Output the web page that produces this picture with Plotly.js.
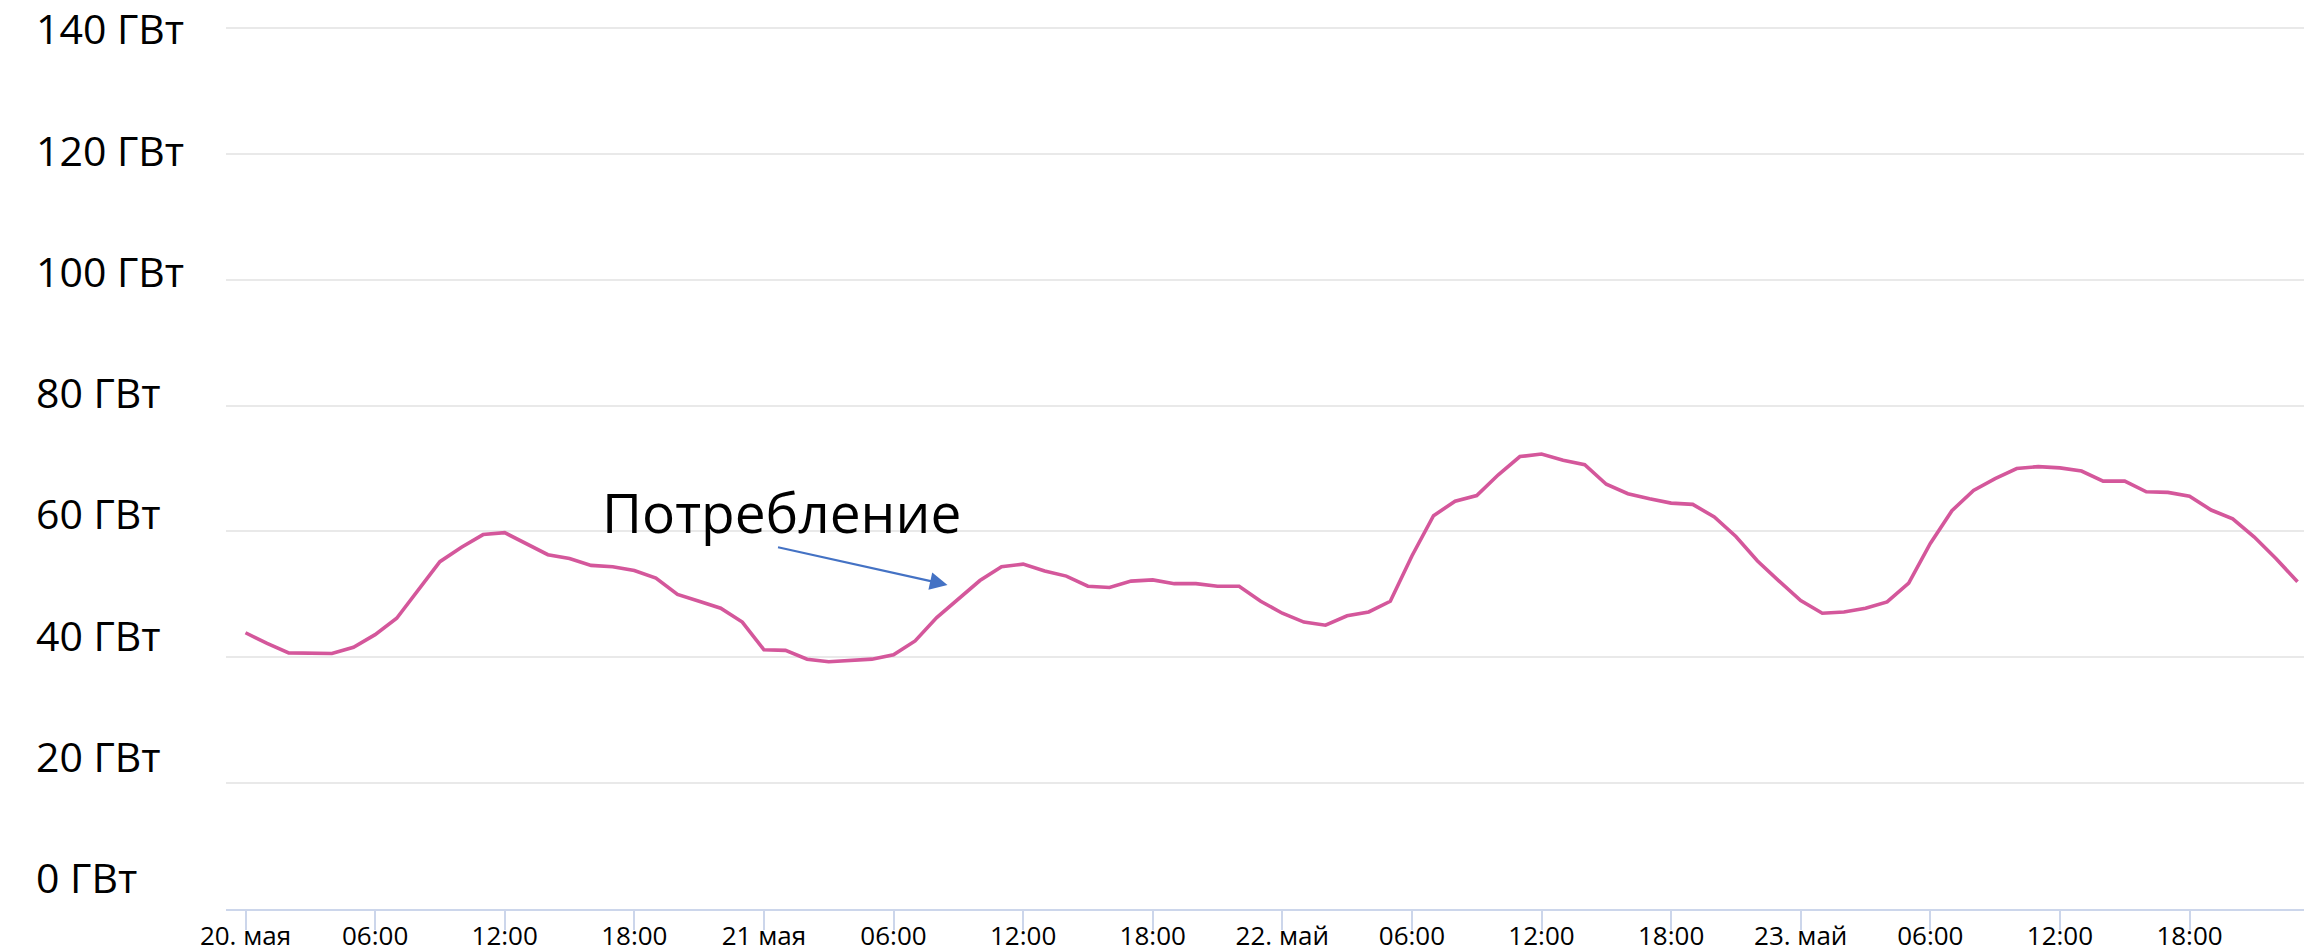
<!DOCTYPE html>
<html>
<head>
<meta charset="utf-8">
<script src="https://cdn.plot.ly/plotly-3.0.1.min.js"></script>
<style>
  html, body { margin: 0; padding: 0; background: #ffffff; }
  #chart { width: 2304px; height: 948px; }
</style>
</head>
<body>
<div id="chart"></div>
<script>
// Hourly load, 20 May 00:00 ... 23 May 23:00 (GW)
const startDay = 20;
const loadGW = [
  43.9, 42.2, 40.7, 40.6, 40.6, 41.6, 43.6, 46.2, 50.8, 55.2, 57.5, 59.5,
  59.8, 58.0, 56.3, 55.7, 54.6, 54.4, 53.8, 52.6, 50.0, 48.9, 47.8, 45.6,
  41.2, 41.1, 39.7, 39.3, 39.5, 39.7, 40.4, 42.6, 46.3, 49.2, 52.2, 54.4,
  54.8, 53.7, 52.9, 51.3, 51.1, 52.1, 52.3, 51.7, 51.7, 51.3, 51.3, 48.9,
  47.0, 45.6, 45.1, 46.6, 47.2, 48.9, 56.1, 62.5, 64.8, 65.7, 69.0, 71.9,
  72.3, 71.3, 70.6, 67.5, 66.0, 65.2, 64.5, 64.3, 62.3, 59.2, 55.3, 52.1,
  49.0, 47.0, 47.2, 47.8, 48.8, 51.8, 58.1, 63.3, 66.5, 68.4, 70.0, 70.3,
  70.1, 69.6, 68.0, 68.0, 66.3, 66.2, 65.6, 63.4, 62.0, 59.1, 55.7, 52.0
];
const xTickVals = [
  '2023-05-20 00:00', '2023-05-20 06:00', '2023-05-20 12:00', '2023-05-20 18:00',
  '2023-05-21 00:00', '2023-05-21 06:00', '2023-05-21 12:00', '2023-05-21 18:00',
  '2023-05-22 00:00', '2023-05-22 06:00', '2023-05-22 12:00', '2023-05-22 18:00',
  '2023-05-23 00:00', '2023-05-23 06:00', '2023-05-23 12:00', '2023-05-23 18:00'
];
const xTickText = [
  '20. мая', '06:00', '12:00', '18:00',
  '21 мая', '06:00', '12:00', '18:00',
  '22. май', '06:00', '12:00', '18:00',
  '23. май', '06:00', '12:00', '18:00'
];
const yTickVals = [0, 20, 40, 60, 80, 100, 120, 140];
const yTickText = ['0 ГВт', '20 ГВт', '40 ГВт', '60 ГВт', '80 ГВт', '100 ГВт', '120 ГВт', '140 ГВт'];
const seriesLabel = 'Потребление';

function pad(n) { return (n < 10 ? '0' : '') + n; }
const times = loadGW.map((v, i) => {
  const d = startDay + Math.floor(i / 24);
  const h = i % 24;
  return '2023-05-' + pad(d) + ' ' + pad(h) + ':00';
});

const FONT = '"Open Sans", "Noto Sans", "DejaVu Sans", sans-serif';

const traces = [
  {
    x: times, y: loadGW, type: 'scatter', mode: 'lines',
    line: { color: '#d4579b', width: 3.6 },
    name: seriesLabel, showlegend: false, hoverinfo: 'x+y'
  },
  {
    x: times, y: loadGW, type: 'scatter', mode: 'lines', yaxis: 'y2',
    line: { color: 'rgba(0,0,0,0)', width: 0 },
    showlegend: false, hoverinfo: 'skip'
  }
];

const layout = {
  width: 2304, height: 948,
  margin: { l: 0, r: 0, t: 0, b: 39, pad: 0 },
  paper_bgcolor: '#ffffff', plot_bgcolor: '#ffffff',
  showlegend: false,
  font: { family: FONT, color: '#000000' },
  xaxis: {
    type: 'date',
    domain: [226 / 2304, 1],
    range: ['2023-05-19 23:05:50', '2023-05-23 23:18:00'],
    tickmode: 'array', tickvals: xTickVals, ticktext: xTickText,
    ticks: 'outside', ticklen: 19, tickwidth: 2, tickcolor: '#ccd6eb',
    showline: true, linecolor: '#ccd6eb', linewidth: 2,
    showgrid: false, zeroline: false,
    tickfont: { family: FONT, size: 26, color: '#000000' },
    ticklabelstandoff: -16
  },
  yaxis: {
    range: [0, 144.45],
    tickmode: 'array', tickvals: [20, 40, 60, 80, 100, 120, 140],
    showticklabels: false, ticks: '',
    showgrid: true, gridcolor: '#e9e9e9', gridwidth: 2,
    zeroline: false, showline: false
  },
  yaxis2: {
    overlaying: 'y', anchor: 'free', side: 'left', position: 32 / 2304,
    range: [-4.95, 144.95],
    tickmode: 'array', tickvals: yTickVals, ticktext: yTickText,
    ticklabelposition: 'inside', ticks: '',
    showgrid: false, zeroline: false, showline: false,
    tickfont: { family: FONT, size: 41, color: '#000000' }
  },
  annotations: [
    {
      x: '2023-05-21 00:48', y: 63.1, xref: 'x', yref: 'y',
      text: seriesLabel, showarrow: false,
      xanchor: 'center', yanchor: 'middle',
      font: { family: FONT, size: 55, color: '#000000' }
    },
    {
      x: '2023-05-21 08:30', y: 51.5, xref: 'x', yref: 'y',
      text: '', showarrow: true,
      ax: -171, ay: -38,
      arrowcolor: '#4472c4', arrowwidth: 2.2, arrowhead: 2, arrowsize: 1.6,
      standoff: 0, startstandoff: 0
    }
  ]
};

Plotly.newPlot('chart', traces, layout, { staticPlot: true, displayModeBar: false });
</script>
</body>
</html>
